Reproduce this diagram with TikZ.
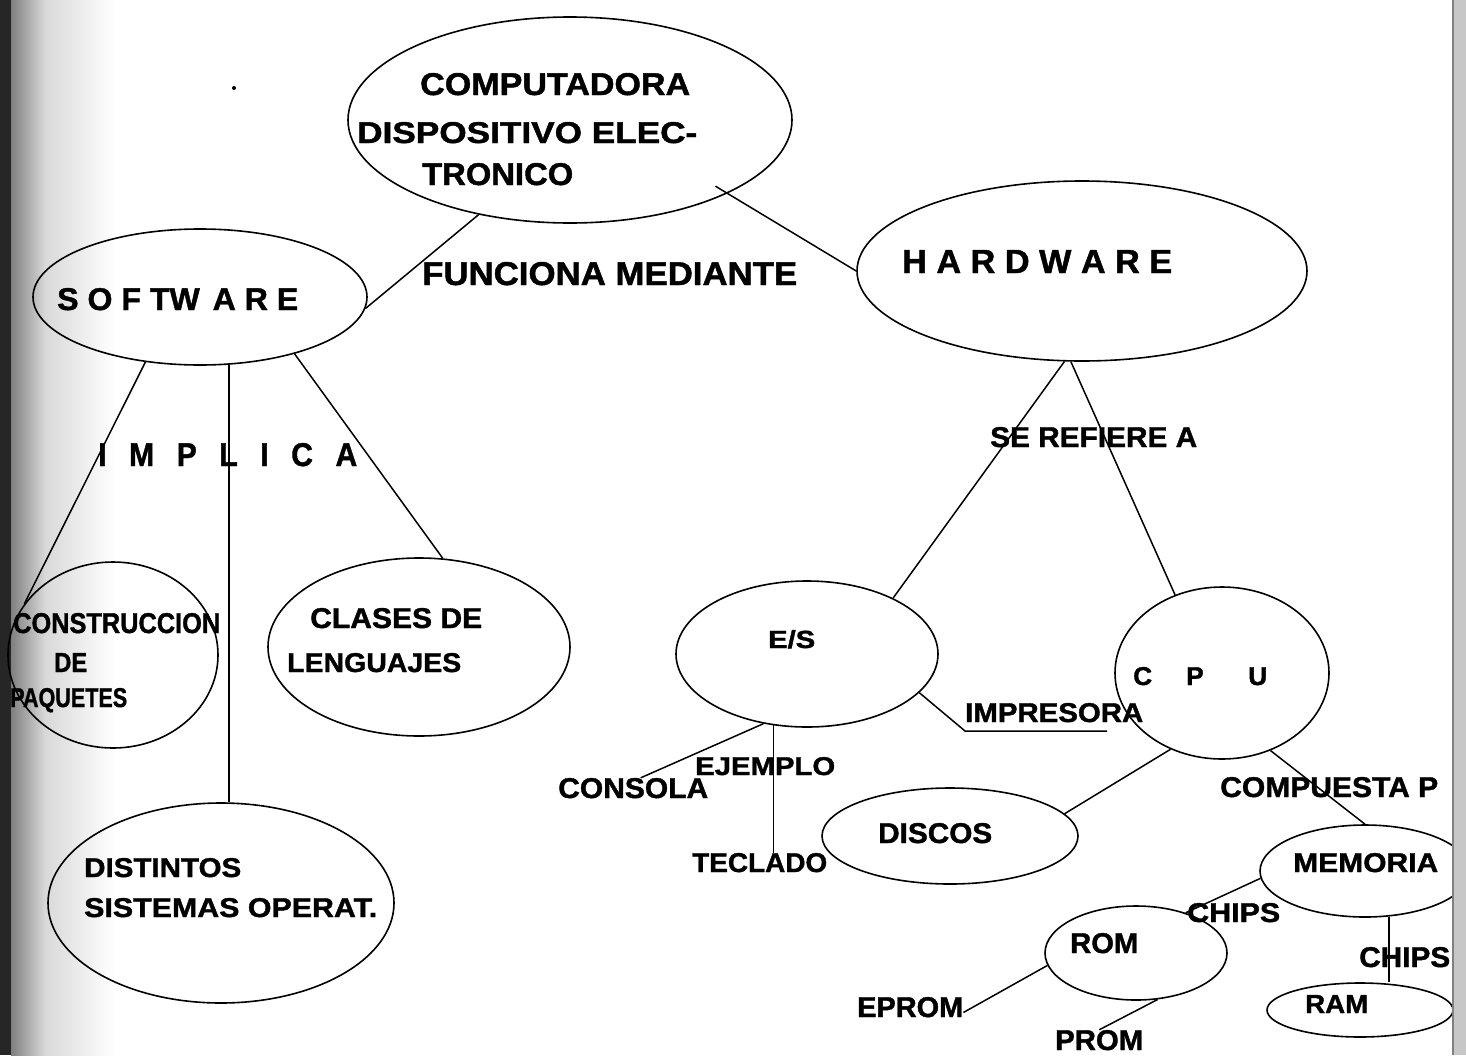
\documentclass[tikz,border=0pt]{standalone}
\usepackage{fontspec}
\setmainfont{Liberation Sans}[BoldFeatures={FakeBold=1.3}]
\usetikzlibrary{shapes.geometric,calc}
% stretch a label to a given width and cap height
\newcommand{\fitbox}[3]{\resizebox{#1pt}{#2pt}{#3}}
\newcommand{\lgap}[1]{\hspace{#1em}}
\begin{document}
\begin{tikzpicture}[x=1pt,y=-1pt,
  oval/.style={draw, ellipse, line width=1.6pt, inner sep=0pt},
  lbl/.style={anchor=base west, inner sep=0pt, font=\bfseries},
  link/.style={line width=1.5pt}]
\useasboundingbox (0,0) rectangle (1466,1055);

% dark binding edge of the page
\fill[black!85] (0,0) rectangle (11,1055);
\shade[left color=black!50, right color=black!15] (11,0) rectangle (45,1055);
\shade[left color=black!15, right color=white] (45,0) rectangle (115,1055);

\begin{scope}
\clip (0,0) rectangle (1452,1055);

% concepts
\node[oval, minimum width=444pt, minimum height=206pt] (comp) at (570,120) {};
\node[oval, minimum width=334pt, minimum height=136pt] (soft) at (200,297) {};
\node[oval, minimum width=450pt, minimum height=180pt] (hard) at (1082,271) {};
\node[oval, minimum width=210pt, minimum height=186pt] (constr) at (113,655) {};
\node[oval, minimum width=302pt, minimum height=178pt] (clases) at (419,647) {};
\node[oval, minimum width=346pt, minimum height=200pt] (dist) at (221,903) {};
\node[oval, minimum width=262pt, minimum height=146pt] (es) at (807,654) {};
\node[oval, minimum width=214pt, minimum height=172pt] (cpu) at (1222,673) {};
\node[oval, minimum width=256pt, minimum height=96pt] (discos) at (950,836) {};
\node[oval, minimum width=210pt, minimum height=92pt] (memoria) at (1365,871) {};
\node[oval, minimum width=182pt, minimum height=94pt] (rom) at (1136,953) {};
\node[oval, minimum width=186pt, minimum height=54pt] (ram) at (1360,1010) {};

% texts
\node[lbl] (tcomp1) at (420,95) {\fitbox{270}{22}{COMPUTADORA}};
\node[lbl] (tcomp2) at (357,143) {\fitbox{340}{21}{DISPOSITIVO ELEC-}};
\node[lbl] (tcomp3) at (422,185) {\fitbox{151}{22}{TRONICO}};
\node[lbl] (tfunc) at (422,285) {\fitbox{375}{23}{FUNCIONA MEDIANTE}};
\node[lbl] (tsoft) at (57,310) {\fitbox{241}{22}{S O F TW\lgap{0.4}A R E}};
\node[lbl] (thard) at (902,273) {\fitbox{270}{23}{H A R D W A R E}};
\node[lbl] (tref) at (990,447) {\fitbox{207}{20}{SE REFIERE A}};
\node[lbl] (timpl) at (98,466) {\fitbox{259}{23}{I\lgap{.75}M\lgap{.75}P\lgap{.75}L\lgap{.75}I\lgap{.75}C\lgap{.75}A}};
\node[lbl] (tcons1) at (13,633) {\fitbox{207}{20}{CONSTRUCCION}};
\node[lbl] (tcons2) at (54,672) {\fitbox{33}{19}{DE}};
\node[lbl] (tcons3) at (10,707) {\fitbox{117}{19}{PAQUETES}};
\node[lbl] (tcla1) at (310,628) {\fitbox{172}{20}{CLASES DE}};
\node[lbl] (tcla2) at (287,672) {\fitbox{174}{19}{LENGUAJES}};
\node[lbl] (tdis1) at (84,877) {\fitbox{157}{19}{DISTINTOS}};
\node[lbl] (tdis2) at (84,917) {\fitbox{293}{19}{SISTEMAS OPERAT.}};
\node[lbl] (tes) at (768,648) {\fitbox{47}{18}{E/S}};
\node[lbl] (tcpu) at (1133,685) {\fitbox{134}{18}{C\lgap{1.3}P\lgap{1.7}U}};
\node[lbl] (impr) at (965,722) {\fitbox{178}{19}{IMPRESORA}};
\node[lbl] (consola) at (558,798) {\fitbox{150}{20}{CONSOLA}};
\node[lbl] (tejem) at (695,775) {\fitbox{140}{18}{EJEMPLO}};
\node[lbl] (teclado) at (692,872) {\fitbox{135}{19}{TECLADO}};
\node[lbl] (tdisc) at (878,843) {\fitbox{114}{20}{DISCOS}};
\node[lbl] (tcompu) at (1220,797) {\fitbox{218}{20}{COMPUESTA P}};
\node[lbl] (tmem) at (1293,872) {\fitbox{145}{19}{MEMORIA}};
\node[lbl] (tchip1) at (1187,922) {\fitbox{93}{19}{CHIPS}};
\node[lbl] (trom) at (1070,953) {\fitbox{68}{20}{ROM}};
\node[lbl] (tchip2) at (1359,967) {\fitbox{91}{20}{CHIPS}};
\node[lbl] (tram) at (1305,1013) {\fitbox{63}{18}{RAM}};
\node[lbl] (eprom) at (857,1017) {\fitbox{106}{20}{EPROM}};
\node[lbl] (prom) at (1055,1050) {\fitbox{88}{20}{PROM}};

% links
\draw[link] (comp.226) -- (soft.-4);
\draw[link, shorten <=-14pt] (comp.-25) -- (hard.180);
\draw[link] (soft.230) -- (constr.150);
\draw[link] (soft.-67) -- (soft.-67 |- dist.north);
\draw[link] (soft.-31) -- (clases.75);
\draw[link] (hard.-101) -- (es.33);
\draw[link] (hard.-97) -- (cpu.121);
\draw[link] (es.238) -- ($(consola.north west)!0.55!(consola.north east)$);
\draw[link] (es.245) -- (es.245 |- teclado.north);
\draw[link] (es.-19) -- ([yshift=-9pt]impr.base west) -- ++(142,0);
\draw[link] (cpu.236) -- (discos.11);
\draw[link] (cpu.-58) -- (memoria.north);
\draw[link] (memoria.184) -- (rom.39);
\draw[link] (memoria.-62) -- (memoria.-62 |- ram.north);
\draw[link] (rom.188) -- ([yshift=5pt]eprom.south east);
\draw[link] (rom.-65) -- (prom.north);

% stray speck on the sheet
\fill (234,88) circle (2);
\end{scope}

% right margin of the sheet
\fill[black!22] (1452,0) rectangle (1466,1055);
\draw[black!50, line width=1.5pt] (1452.75,0) -- (1452.75,1055);
\end{tikzpicture}
\end{document}
